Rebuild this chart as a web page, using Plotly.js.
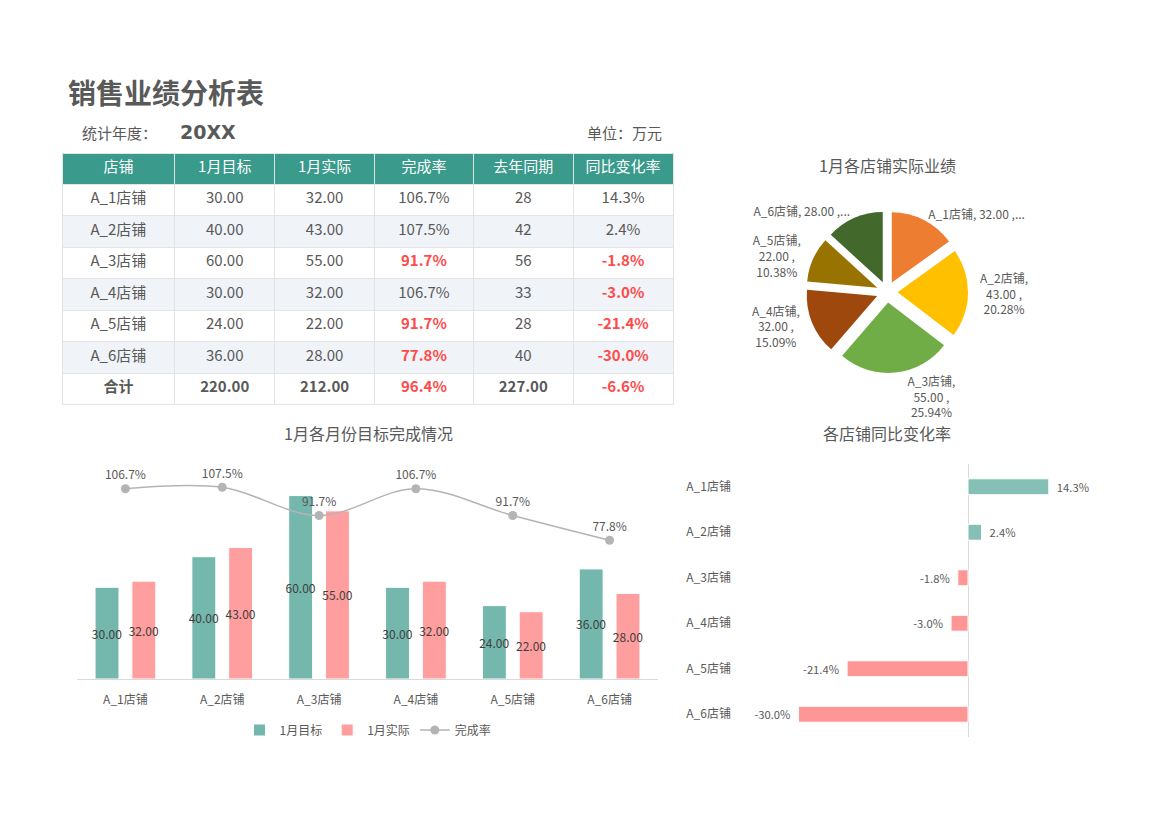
<!DOCTYPE html>
<html>
<head>
<meta charset="utf-8">
<script src="https://cdn.plot.ly/plotly-3.0.1.min.js"></script>
<style>html,body{margin:0;padding:0;background:#fff;}#chart{width:1170px;height:827px;}</style>
</head>
<body>
<div id="chart"></div>
<script>
// ---- data ----
var stores = ['A_1店铺','A_2店铺','A_3店铺','A_4店铺','A_5店铺','A_6店铺'];
var target = [30, 40, 60, 30, 24, 36];
var actual = [32, 43, 55, 32, 22, 28];
var rate = [106.7, 107.5, 91.7, 106.7, 91.7, 77.8];
var lastYear = [28, 42, 56, 33, 28, 40];
var yoy = [14.3, 2.4, -1.8, -3.0, -21.4, -30.0];
var totalLabel = '合计';
var totals = {target: 220, actual: 212, rate: 96.4, lastYear: 227, yoy: -6.6};
var headers = ['店铺','1月目标','1月实际','完成率','去年同期','同比变化率'];
var pieColors = ['#ED7D31','#FFC000','#70AD47','#9E480E','#997300','#43682B'];

// ---- helpers ----
var W = 1170, H = 827;
function px(x){return x / W;}
function py(y){return 1 - y / H;}
var FONT = '"Noto Sans CJK SC", "Microsoft YaHei", sans-serif';
var GRAY = '#595959';
var RED = '#FF4B4B';

// ---- table ----
function f2(v){return v.toFixed(2);}
function pct(v){return v.toFixed(1) + '%';}
var colStore = stores.concat([totalLabel]);
var colTarget = target.map(f2).concat([f2(totals.target)]);
var colActual = actual.map(f2).concat([f2(totals.actual)]);
var colRate = rate.map(pct).concat([pct(totals.rate)]);
var colLast = lastYear.map(String).concat([f2(totals.lastYear)]);
var colYoy = yoy.map(pct).concat([pct(totals.yoy)]);

var nRows = stores.length + 1;
var rowFill = [];
for (var i = 0; i < nRows; i++) rowFill.push(i % 2 === 1 ? '#F0F3F8' : '#FFFFFF');
var grayCol = rowFill.map(function(){return GRAY;});
var rateColors = rate.map(function(v){return v < 100 ? RED : GRAY;}).concat([totals.rate < 100 ? RED : GRAY]);
var yoyColors = yoy.map(function(v){return v < 0 ? RED : GRAY;}).concat([totals.yoy < 0 ? RED : GRAY]);
var plainW = rowFill.map(function(_, r){return r === nRows - 1 ? 'bold' : 'normal';});
var rateW = rate.map(function(v){return v < 100 ? 'bold' : 'normal';}).concat(['bold']);
var yoyW = yoy.map(function(v){return v < 0 ? 'bold' : 'normal';}).concat(['bold']);

var tableTrace = {
  type: 'table',
  domain: {x: [px(62), px(674)], y: [py(406), py(153)]},
  columnwidth: [113, 100, 100, 99, 100, 100],
  header: {
    values: headers,
    align: 'center',
    height: 31,
    fill: {color: '#3A9A8B'},
    line: {color: '#DDE8E6', width: 1},
    font: {family: FONT, size: 15, color: '#FFFFFF'}
  },
  cells: {
    values: [colStore, colTarget, colActual, colRate, colLast, colYoy],
    align: 'center',
    height: 31.5,
    fill: {color: [rowFill, rowFill, rowFill, rowFill, rowFill, rowFill]},
    line: {color: '#E3E3E3', width: 1},
    font: {family: FONT, size: 15,
           color: [grayCol, grayCol, grayCol, rateColors, grayCol, yoyColors],
           weight: [plainW, plainW, plainW, rateW, plainW, yoyW]}
  }
};

// ---- pie ----
var pieTemplates = stores.map(function(s, i){
  return (i === 0 || i === stores.length - 1)
    ? '%{label}, %{value:.2f} ,...'
    : '%{label},<br>%{value:.2f} ,<br>%{percent:.2%}';
});
var pieTrace = {
  type: 'pie',
  labels: stores,
  values: actual,
  sort: false,
  direction: 'clockwise',
  rotation: 0,
  pull: 0.15,
  marker: {colors: pieColors, line: {color: '#FFFFFF', width: 0}},
  texttemplate: pieTemplates,
  textposition: 'outside',
  textfont: {family: FONT, size: 12, color: GRAY},
  automargin: false,
  showlegend: false,
  hoverinfo: 'label+value+percent',
  domain: {x: [px(806), px(968)], y: [py(373), py(211)]}
};

// ---- combo bar + line ----
var barTarget = {
  type: 'bar', name: '1月目标', x: stores, y: target,
  xaxis: 'x', yaxis: 'y',
  marker: {color: '#73B7AD', line: {color: '#FFFFFF', width: 1}},
  texttemplate: '%{y:.2f}', textposition: 'inside', insidetextanchor: 'middle',
  textangle: 0, constraintext: 'none',
  insidetextfont: {family: FONT, size: 12, color: '#404040'},
  cliponaxis: false
};
var barActual = {
  type: 'bar', name: '1月实际', x: stores, y: actual,
  xaxis: 'x', yaxis: 'y',
  marker: {color: '#FF9E9E', line: {color: '#FFFFFF', width: 1}},
  texttemplate: '%{y:.2f}', textposition: 'inside', insidetextanchor: 'middle',
  textangle: 0, constraintext: 'none',
  insidetextfont: {family: FONT, size: 12, color: '#404040'},
  cliponaxis: false
};
var rateLine = {
  type: 'scatter', name: '完成率', x: stores, y: rate.map(function(v){return v / 100;}),
  xaxis: 'x', yaxis: 'y2',
  mode: 'lines+markers+text',
  line: {color: '#B4B4B4', width: 1.5, shape: 'spline'},
  marker: {color: '#B4B4B4', size: 9},
  texttemplate: '%{y:.1%}', textposition: 'top center',
  textfont: {family: FONT, size: 12, color: GRAY},
  cliponaxis: false
};

// ---- horizontal bar ----
var hbar = {
  type: 'bar', orientation: 'h', x: yoy.map(function(v){return v / 100;}), y: stores,
  xaxis: 'x3', yaxis: 'y3', width: 0.35,
  marker: {color: yoy.map(function(v){return v >= 0 ? '#85C0B7' : '#FF9696';}), line: {color: '#FFFFFF', width: 1}},
  texttemplate: yoy.map(function(v){return v >= 0 ? '  %{x:.1%}' : '%{x:.1%}  ';}),
  textposition: 'outside',
  textfont: {family: FONT, size: 12, color: GRAY},
  cliponaxis: false, showlegend: false
};

var layout = {
  width: W, height: H,
  margin: {l: 0, r: 0, t: 0, b: 0},
  paper_bgcolor: '#FFFFFF', plot_bgcolor: 'rgba(0,0,0,0)',
  font: {family: FONT, color: GRAY, size: 12},
  barmode: 'group', bargap: 0.24, bargroupgap: 0.35,
  showlegend: true,
  legend: {orientation: 'h', x: px(368), xanchor: 'center', y: py(730), yanchor: 'middle',
           font: {family: FONT, size: 12, color: GRAY}, bgcolor: 'rgba(0,0,0,0)'},
  xaxis: {domain: [px(77), px(658)], anchor: 'y', type: 'category',
          showline: true, linecolor: '#D9D9D9', linewidth: 1, ticks: '', showgrid: false,
          ticklabelstandoff: 10,
          tickfont: {family: FONT, size: 12, color: GRAY}, fixedrange: true},
  yaxis: {domain: [py(679), py(465)], anchor: 'x', range: [0, 70], visible: false, showgrid: false, fixedrange: true},
  yaxis2: {overlaying: 'y', anchor: 'x', range: [0, 1.2], visible: false, showgrid: false, fixedrange: true},
  xaxis3: {domain: [px(742), px(1081)], anchor: 'y3', range: [-0.4, 0.2], showgrid: false,
           zeroline: true, zerolinecolor: '#D9D9D9', zerolinewidth: 1, showticklabels: false, ticks: '', fixedrange: true},
  yaxis3: {domain: [py(737), py(464)], anchor: 'x3', type: 'category', autorange: 'reversed',
           showgrid: false, showline: false, zeroline: false, ticks: '', ticklabelstandoff: 10,
           tickfont: {family: FONT, size: 12, color: GRAY}, fixedrange: true},
  annotations: [
    {text: '<b>销售业绩分析表</b>', xref: 'paper', yref: 'paper', x: px(66), y: py(92), xanchor: 'left', yanchor: 'middle',
     showarrow: false, font: {family: FONT, size: 28, color: GRAY}},
    {text: '统计年度：', xref: 'paper', yref: 'paper', x: px(80), y: py(132), xanchor: 'left', yanchor: 'middle',
     showarrow: false, font: {family: FONT, size: 15, color: GRAY}},
    {text: '<b>20XX</b>', xref: 'paper', yref: 'paper', x: px(178), y: py(132), xanchor: 'left', yanchor: 'middle',
     showarrow: false, font: {family: '"DejaVu Sans", sans-serif', size: 19, color: GRAY}},
    {text: '单位：万元', xref: 'paper', yref: 'paper', x: px(664), y: py(132), xanchor: 'right', yanchor: 'middle',
     showarrow: false, font: {family: FONT, size: 15, color: GRAY}},
    {text: '1月各店铺实际业绩', xref: 'paper', yref: 'paper', x: px(887), y: py(165), xanchor: 'center', yanchor: 'middle',
     showarrow: false, font: {family: FONT, size: 16, color: GRAY}},
    {text: '1月各月份目标完成情况', xref: 'paper', yref: 'paper', x: px(368), y: py(433), xanchor: 'center', yanchor: 'middle',
     showarrow: false, font: {family: FONT, size: 16, color: GRAY}},
    {text: '各店铺同比变化率', xref: 'paper', yref: 'paper', x: px(887), y: py(433), xanchor: 'center', yanchor: 'middle',
     showarrow: false, font: {family: FONT, size: 16, color: GRAY}}
  ]
};

Plotly.newPlot('chart', [tableTrace, pieTrace, barTarget, barActual, rateLine, hbar], layout, {displayModeBar: false});
</script>
</body>
</html>
